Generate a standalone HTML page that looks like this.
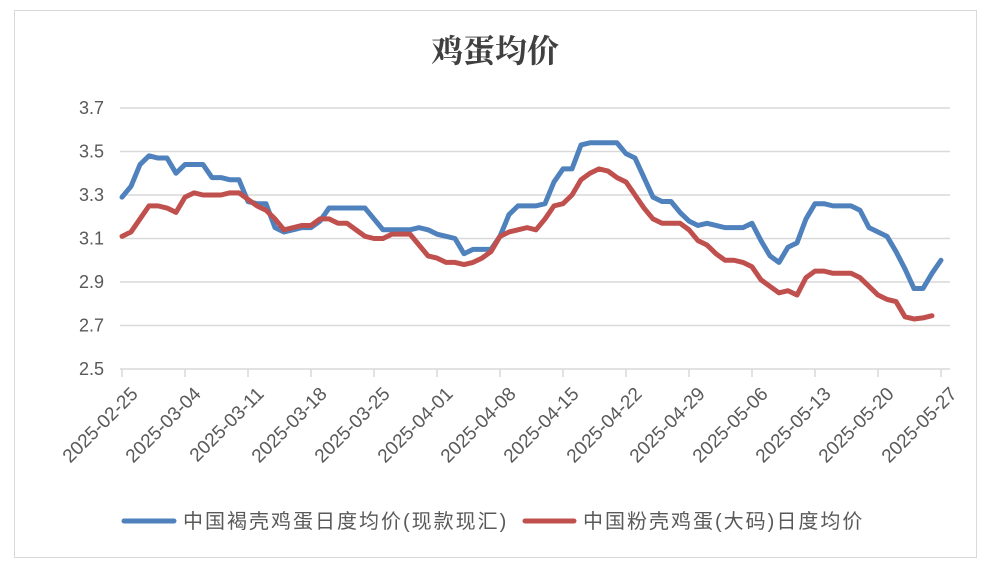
<!DOCTYPE html>
<html><head><meta charset="utf-8"><style>
body{margin:0;background:#fff;}
svg text{font-family:"Liberation Sans","Noto Sans CJK SC",sans-serif;}
</style></head><body>
<svg id="chart" width="989" height="568" viewBox="0 0 989 568" xmlns="http://www.w3.org/2000/svg">
<rect x="14.5" y="10.5" width="962" height="547" fill="#fff" stroke="#d9d9d9"/>
<text x="495" y="62" text-anchor="middle" font-size="32" font-weight="bold" fill="#404040" style="font-family:'Liberation Serif','Noto Serif CJK SC',serif">鸡蛋均价</text>
<g id="grid"></g><g id="axes"></g><g id="series"></g>
<g>
<line x1="124" y1="521" x2="174" y2="521" stroke="#4f81bd" stroke-width="5" stroke-linecap="round"/>
<text x="183" y="528" font-size="20" letter-spacing="2" fill="#595959">中国褐壳鸡蛋日度均价(现款现汇)</text>
<line x1="525" y1="521" x2="574" y2="521" stroke="#c0504d" stroke-width="5" stroke-linecap="round"/>
<text x="583" y="528" font-size="20" letter-spacing="2" fill="#595959">中国粉壳鸡蛋(大码)日度均价</text>
</g>
</svg>
<script>
const yTicks=[2.5,2.7,2.9,3.1,3.3,3.5,3.7];
const dateLabels=["2025-02-25","2025-03-04","2025-03-11","2025-03-18","2025-03-25","2025-04-01","2025-04-08","2025-04-15","2025-04-22","2025-04-29","2025-05-06","2025-05-13","2025-05-20","2025-05-27"];
const brownShell=[3.29,3.34,3.44,3.48,3.47,3.47,3.40,3.44,3.44,3.44,3.38,3.38,3.37,3.37,3.27,3.26,3.26,3.15,3.13,3.14,3.15,3.15,3.18,3.24,3.24,3.24,3.24,3.24,3.19,3.14,3.14,
3.14,3.14,3.15,3.14,3.12,3.11,3.10,3.03,3.05,3.05,3.05,3.11,3.21,3.25,3.25,3.25,3.26,3.36,3.42,3.42,3.53,3.54,3.54,3.54,3.54,3.49,3.47,3.38,3.29,3.27,3.27,
3.22,3.18,3.16,3.17,3.16,3.15,3.15,3.15,3.17,3.09,3.02,2.99,3.06,3.08,3.19,3.26,3.26,3.25,3.25,3.25,3.23,3.15,3.13,3.11,3.04,2.96,2.87,2.87,2.94,3.00];
const pinkShell=[3.11,3.13,3.19,3.25,3.25,3.24,3.22,3.29,3.31,3.30,3.30,3.30,3.31,3.31,3.28,3.25,3.23,3.19,3.14,3.15,3.16,3.16,3.19,3.19,3.17,3.17,3.14,3.11,3.10,3.10,3.12,
3.12,3.12,3.07,3.02,3.01,2.99,2.99,2.98,2.99,3.01,3.04,3.11,3.13,3.14,3.15,3.14,3.19,3.25,3.26,3.30,3.37,3.40,3.42,3.41,3.38,3.36,3.30,3.24,3.19,3.17,3.17,3.17,3.14,
3.09,3.07,3.03,3.00,3.00,2.99,2.97,2.91,2.88,2.85,2.86,2.84,2.92,2.95,2.95,2.94,2.94,2.94,2.92,2.88,2.84,2.82,2.81,2.74,2.73,2.735,2.745];
const NS="http://www.w3.org/2000/svg";
const x0=122,dx=9,yBase=369,yPer=217.5;
function xs(i){return x0+i*dx;}
function ys(v){return yBase-(v-2.5)*yPer;}
function mk(tag,attrs,parent){const e=document.createElementNS(NS,tag);for(const k in attrs)e.setAttribute(k,attrs[k]);parent.appendChild(e);return e;}
const grid=document.getElementById('grid'),axes=document.getElementById('axes'),ser=document.getElementById('series');
yTicks.forEach(t=>{
  if(t>2.5){const l=mk('line',{x1:120,x2:950,y1:ys(t),y2:ys(t),stroke:'#d9d9d9','stroke-width':1.5},grid);
  
  }
  const tx=mk('text',{x:104,y:ys(t)+6,'text-anchor':'end','font-size':18,fill:'#595959'},axes);
  tx.textContent=t.toFixed(1);
  
  
});
const ax=mk('line',{x1:120,x2:950,y1:yBase,y2:yBase,stroke:'#d9d9d9','stroke-width':1.5},axes);


dateLabels.forEach((d,k)=>{
  const x=xs(k*7);
  const tk=mk('line',{x1:x,x2:x,y1:yBase,y2:yBase+8,stroke:'#d9d9d9','stroke-width':1.5},axes);
  
  
  const tx=mk('text',{x:0,y:0,'text-anchor':'end','font-size':19,fill:'#595959',transform:`translate(${x+17},${yBase+26}) rotate(-45)`},axes);
  tx.textContent=d;
  
  
});
function line(arr,color,name){
  const pts=arr.map((v,i)=>xs(i)+','+ys(v)).join(' ');
  const p=mk('polyline',{points:pts,fill:'none',stroke:color,'stroke-width':5,'stroke-linejoin':'round','stroke-linecap':'round'},ser);
  
  
}
line(brownShell,'#4f81bd','brown-shell-line');
line(pinkShell,'#c0504d','pink-shell-line');
</script>
</body></html>
